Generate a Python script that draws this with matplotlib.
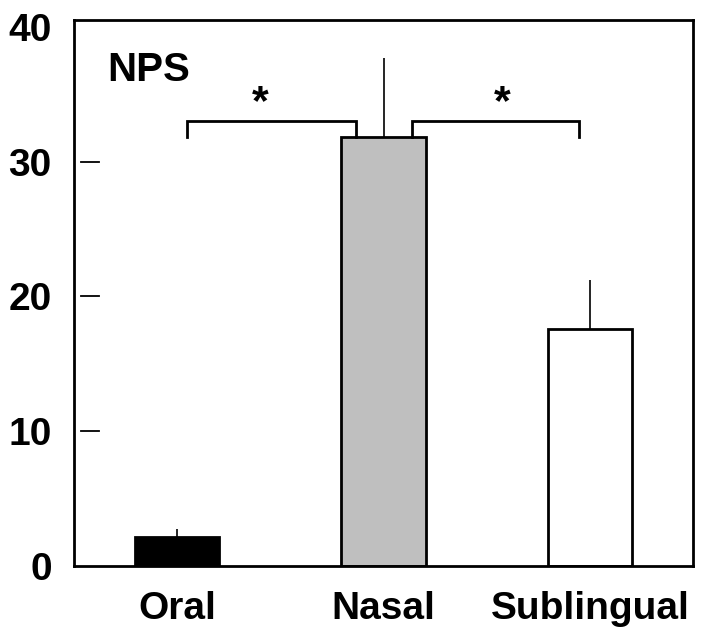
import matplotlib
matplotlib.use("Agg")
import matplotlib.pyplot as plt
import matplotlib.transforms as mtransforms

# данные
groups = ["Oral", "Nasal", "Sublingual"]
means = [2.15, 31.85, 17.6]
errors = [0.6, 5.85, 3.6]
colors = ["black", "#bfbfbf", "white"]

# скобки значимости: (x1, x2, y_top, y_bottom), звезда: (x, y)
brackets = [(0.05, 0.867, 33.0, 31.85), (1.137, 1.947, 33.0, 31.85)]
stars = [(0.403, 34.3), (1.577, 34.3)]
yticks = [10, 20, 30]
ylabels = ["0", "10", "20", "30", "40"]

plt.rcParams["font.family"] = ["Liberation Sans", "DejaVu Sans"]
plt.rcParams["font.weight"] = "bold"

fig = plt.figure(figsize=(7.06, 6.27), dpi=100)
ax = fig.add_axes([74 / 706, 61 / 627, 619 / 706, 546 / 627])

x = list(range(len(groups)))
ax.bar(x, means, width=0.41, color=colors, edgecolor="black", linewidth=2.0, zorder=2)
ax.errorbar(x, means, yerr=[[0] * len(errors), errors], fmt="none",
            ecolor="black", elinewidth=1.2, capsize=0, zorder=1)

for x1, x2, yt, yb in brackets:
    ax.plot([x1, x1, x2, x2], [yb, yt, yt, yb], color="black", lw=2.0,
            solid_joinstyle="miter")
for sx, sy in stars:
    ax.text(sx, sy, "*", ha="center", va="center", fontsize=31, fontweight="bold")

ax.text(-0.34, 36.0, "NPS", fontsize=29, fontweight="bold", ha="left", va="baseline")

ax.set_xlim(-0.5, 2.5)
ax.set_ylim(0, 40.5)

# короткие чёрточки-деления с зазором от оси
trans = mtransforms.blended_transform_factory(ax.transAxes, ax.transData)
for t in yticks:
    ax.plot([0.0115, 0.04], [t, t], color="black", lw=1.3, transform=trans)

ax.set_yticks([0, 10, 20, 30, 40])
ax.set_yticklabels(ylabels, fontsize=28, fontweight="bold")
ax.set_xticks(x)
ax.set_xticklabels(groups, fontsize=28, fontweight="bold")
ax.tick_params(axis="y", length=0, pad=16)
ax.tick_params(axis="x", length=0, pad=18)

for s in ax.spines.values():
    s.set_linewidth(2.0)

fig.savefig("out.png", dpi=100)
